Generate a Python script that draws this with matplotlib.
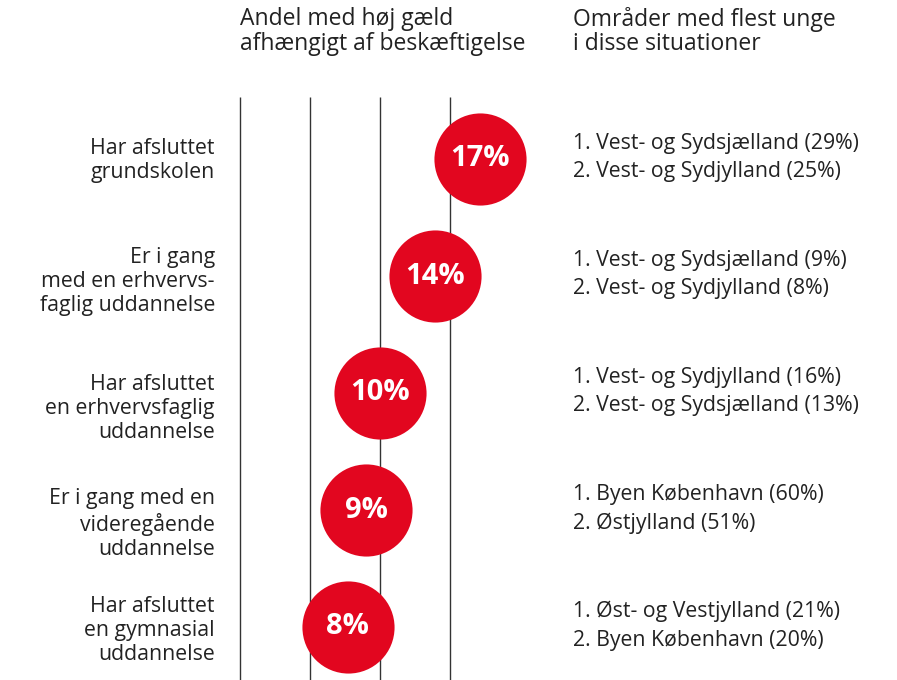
import matplotlib.pyplot as plt

# data
groups = [
    'Har afsluttet\ngrundskolen',
    'Er i gang\nmed en erhvervs-\nfaglig uddannelse',
    'Har afsluttet\nen erhvervsfaglig\nuddannelse',
    'Er i gang med en\nvideregående\nuddannelse',
    'Har afsluttet\nen gymnasial\nuddannelse',
]
share_high_debt = [17.1, 13.9, 10.0, 9.0, 7.7]
areas = [
    '1. Vest- og Sydsjælland (29%)\n2. Vest- og Sydjylland (25%)',
    '1. Vest- og Sydsjælland (9%)\n2. Vest- og Sydjylland (8%)',
    '1. Vest- og Sydjylland (16%)\n2. Vest- og Sydsjælland (13%)',
    '1. Byen København (60%)\n2. Østjylland (51%)',
    '1. Øst- og Vestjylland (21%)\n2. Byen København (20%)',
]
gridlines = [0, 5, 10, 15]
# left labels sit a bit lower than the circles in the original
label_shift = [0.01, 0.05, 0.13, 0.12, 0.03]

red = '#E2061F'
txt = '#222222'
plt.rcParams['font.family'] = ['Open Sans', 'DejaVu Sans']

fig = plt.figure(figsize=(8.97, 6.8), dpi=100)
ax = fig.add_axes([0, 0, 1, 1])
# 1 percentage point ~ 14.06 px, 0 % at x = 239.5 px; rows 117 px apart
px = 14.06
ax.set_xlim(-239.5 / px, (897 - 239.5) / px)
ax.set_ylim(-159 / 117 + 680 / 117, -159 / 117)
ax.axis('off')

rows = list(range(len(groups)))
ax.vlines(gridlines, -0.53, 5, color='#333333', linewidth=1.0, zorder=1)
ax.scatter(share_high_debt, rows, s=4400, color=red, zorder=3, linewidths=0)
for v, r in zip(share_high_debt, rows):
    ax.text(v, r, f'{round(v)}%', color='white', fontsize=21, fontweight='bold',
            ha='center', va='center', zorder=4)

for g, r, d in zip(groups, rows, label_shift):
    ax.text(-1.75, r + d, g, ha='right', va='center', multialignment='right',
            fontsize=15.3, color=txt, linespacing=1.18)

for a, r in zip(areas, rows):
    ax.text(23.7, r - 0.01, a, ha='left', va='center', fontsize=15.3,
            color=txt, linespacing=1.45)

ax.text(0, -1.09, 'Andel med høj gæld\nafhængigt af beskæftigelse', ha='left', va='center',
        fontsize=16.5, color=txt, linespacing=1.05)
ax.text(23.7, -1.09, 'Områder med flest unge\ni disse situationer', ha='left', va='center',
        fontsize=16.5, color=txt, linespacing=1.05)

fig.savefig('out.png', dpi=100)
